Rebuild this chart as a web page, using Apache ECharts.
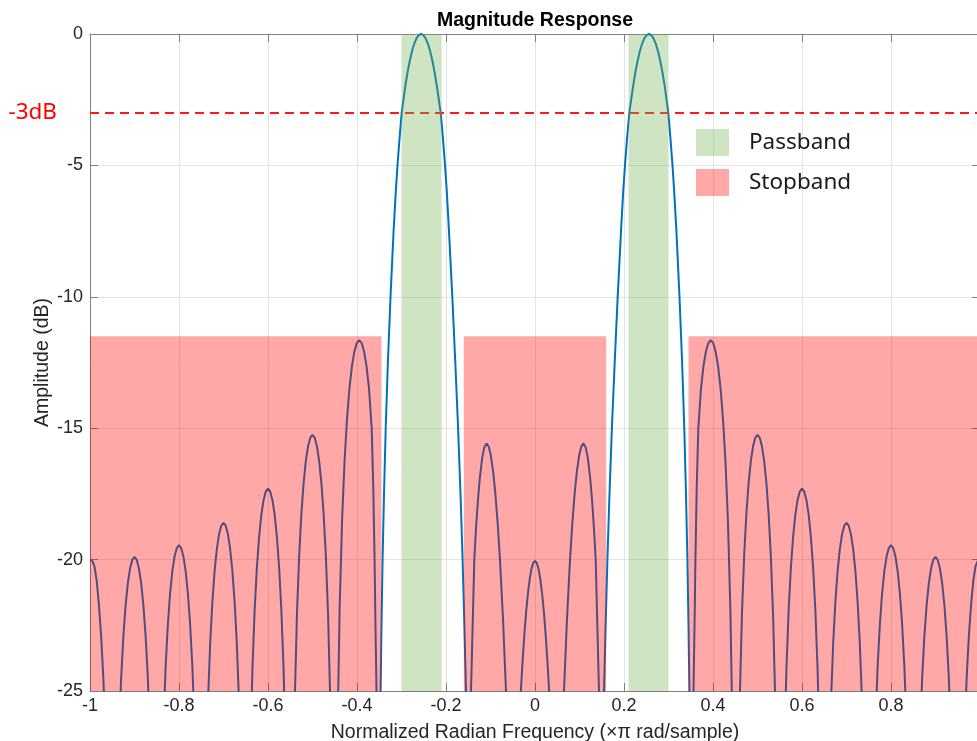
<!DOCTYPE html>
<html>
<head>
<meta charset="utf-8">
<script src="https://cdn.jsdelivr.net/npm/echarts@6/dist/echarts.min.js"></script>
<style>
html, body { margin: 0; padding: 0; background: #ffffff; }
#chart { width: 977px; height: 741px; }
</style>
</head>
<body>
<div id="chart"></div>
<script>
// ---- Data ----
// Normalized frequency (x pi rad/sample), lobe by lobe from left to right
const frequency = [
  -1, -0.995, -0.99, -0.985, -0.98, -0.975, -0.97, -0.965, -0.96, -0.95,
  -0.94, -0.935, -0.93, -0.925, -0.92, -0.915, -0.91, -0.905, -0.9, -0.895, -0.89, -0.885, -0.88, -0.875, -0.87, -0.865, -0.86, -0.85,
  -0.84, -0.835, -0.83, -0.825, -0.82, -0.815, -0.81, -0.805, -0.8, -0.795, -0.79, -0.785, -0.78, -0.775, -0.77, -0.765, -0.76, -0.75,
  -0.74, -0.735, -0.73, -0.725, -0.72, -0.715, -0.71, -0.705, -0.7, -0.695, -0.69, -0.685, -0.68, -0.675, -0.67, -0.665, -0.66, -0.65,
  -0.644, -0.64, -0.635, -0.63, -0.625, -0.62, -0.615, -0.61, -0.605, -0.6, -0.595, -0.59, -0.585, -0.58, -0.575, -0.57, -0.565, -0.56, -0.556, -0.55,
  -0.544, -0.54, -0.535, -0.53, -0.525, -0.52, -0.515, -0.51, -0.505, -0.5, -0.495, -0.49, -0.485, -0.48, -0.475, -0.47, -0.465, -0.46, -0.456, -0.45,
  -0.4467, -0.4434, -0.439, -0.4335, -0.428, -0.4225, -0.417, -0.4115, -0.406, -0.4005, -0.395, -0.3895, -0.384, -0.3785, -0.373, -0.367, -0.3635, -0.3605, -0.3585, -0.3562, -0.3506,
  -0.347, -0.3449, -0.3425, -0.3393, -0.3355, -0.3306, -0.3247, -0.3178, -0.3128, -0.309, -0.3045, -0.2996, -0.291, -0.286, -0.281, -0.276, -0.271, -0.266, -0.261, -0.256,
  -0.251, -0.246, -0.241, -0.236, -0.231, -0.226, -0.221, -0.2119, -0.2067, -0.2022, -0.1982, -0.1933, -0.1858, -0.1791, -0.1728, -0.1674, -0.1627, -0.1587, -0.1551, -0.1494,
  -0.1438, -0.1364, -0.1325, -0.1285, -0.124, -0.1185, -0.114, -0.109, -0.104, -0.0995, -0.094, -0.0895, -0.084, -0.0787, -0.0718, -0.0652, -0.056, -0.0483,
  -0.0395, -0.0318, -0.028, -0.024, -0.02, -0.016, -0.012, -0.008, -0.004, 0, 0.004, 0.008, 0.012, 0.016, 0.02, 0.024, 0.028, 0.0318, 0.0395, 0.0483,
  0.056, 0.0652, 0.0718, 0.0787, 0.084, 0.0895, 0.094, 0.0995, 0.104, 0.109, 0.114, 0.1185, 0.124, 0.1285, 0.1325, 0.1364, 0.1438, 0.1494,
  0.1551, 0.1587, 0.1627, 0.1674, 0.1728, 0.1791, 0.1858, 0.1933, 0.1982, 0.2022, 0.2067, 0.2119, 0.221, 0.226, 0.231, 0.236, 0.241, 0.246, 0.251, 0.256,
  0.261, 0.266, 0.271, 0.276, 0.281, 0.286, 0.291, 0.2996, 0.3045, 0.309, 0.3128, 0.3178, 0.3247, 0.3306, 0.3355, 0.3393, 0.3425, 0.3449, 0.347, 0.3506,
  0.3562, 0.3585, 0.3605, 0.3635, 0.367, 0.373, 0.3785, 0.384, 0.3895, 0.395, 0.4005, 0.406, 0.4115, 0.417, 0.4225, 0.428, 0.4335, 0.439, 0.4434, 0.4467, 0.45,
  0.456, 0.46, 0.465, 0.47, 0.475, 0.48, 0.485, 0.49, 0.495, 0.5, 0.505, 0.51, 0.515, 0.52, 0.525, 0.53, 0.535, 0.54, 0.544, 0.55,
  0.556, 0.56, 0.565, 0.57, 0.575, 0.58, 0.585, 0.59, 0.595, 0.6, 0.605, 0.61, 0.615, 0.62, 0.625, 0.63, 0.635, 0.64, 0.644, 0.65,
  0.66, 0.665, 0.67, 0.675, 0.68, 0.685, 0.69, 0.695, 0.7, 0.705, 0.71, 0.715, 0.72, 0.725, 0.73, 0.735, 0.74, 0.75,
  0.76, 0.765, 0.77, 0.775, 0.78, 0.785, 0.79, 0.795, 0.8, 0.805, 0.81, 0.815, 0.82, 0.825, 0.83, 0.835, 0.84, 0.85,
  0.86, 0.865, 0.87, 0.875, 0.88, 0.885, 0.89, 0.895, 0.9, 0.905, 0.91, 0.915, 0.92, 0.925, 0.93, 0.935, 0.94, 0.95,
  0.96, 0.965, 0.97, 0.975, 0.98, 0.985, 0.99, 0.995, 1
];
// Magnitude in dB (values below the -25 dB floor are cut off by the axis)
const magnitudeDb = [
  -20.0, -20.05, -20.25, -20.8, -21.7, -22.9, -24.5, -26.8, -30.2, -50,
  -30.1, -26.76, -24.51, -22.91, -21.74, -20.9, -20.34, -20.01, -19.9, -20.01, -20.34, -20.9, -21.74, -22.91, -24.51, -26.76, -30.1, -50,
  -29.65, -26.31, -24.06, -22.46, -21.29, -20.45, -19.89, -19.56, -19.45, -19.56, -19.89, -20.45, -21.29, -22.46, -24.06, -26.31, -29.65, -50,
  -28.8, -25.46, -23.21, -21.61, -20.44, -19.6, -19.04, -18.71, -18.6, -18.71, -19.04, -19.6, -20.44, -21.61, -23.21, -25.46, -28.8, -50,
  -31.84, -27.5, -24.16, -21.91, -20.31, -19.14, -18.3, -17.74, -17.41, -17.3, -17.41, -17.74, -18.3, -19.14, -20.31, -21.91, -24.16, -27.5, -31.84, -50,
  -29.79, -25.45, -22.11, -19.86, -18.26, -17.09, -16.25, -15.69, -15.36, -15.25, -15.36, -15.69, -16.25, -17.09, -18.26, -19.86, -22.11, -25.45, -29.79, -50,
  -32.2, -26.2, -21.85, -18.5, -16.26, -14.66, -13.49, -12.65, -12.09, -11.76, -11.65, -11.76, -12.09, -12.65, -13.49, -15.0, -17.2, -20.0, -22.5, -25.0, -50,
  -25, -22.5, -20, -17.5, -15, -12.5, -10, -7.5, -6, -5, -4, -3, -1.93, -1.42, -0.99, -0.63, -0.355, -0.158, -0.04, 0,
  -0.04, -0.158, -0.355, -0.63, -0.99, -1.42, -1.93, -3, -4, -5, -6, -7.5, -10, -12.5, -15, -17.5, -20, -22.5, -25, -50,
  -25, -20, -18.8, -17.8, -16.9, -16.11, -15.73, -15.58, -15.7, -16.01, -16.66, -17.41, -18.59, -20, -22.3, -25, -32, -50,
  -30, -25, -23.9, -22.87, -22.0, -21.3, -20.75, -20.36, -20.13, -20.05, -20.13, -20.36, -20.75, -21.3, -22.0, -22.87, -23.9, -25, -30, -50,
  -32, -25, -22.3, -20, -18.59, -17.41, -16.66, -16.01, -15.7, -15.58, -15.73, -16.11, -16.9, -17.8, -18.8, -20, -25, -50,
  -25, -22.5, -20, -17.5, -15, -12.5, -10, -7.5, -6, -5, -4, -3, -1.93, -1.42, -0.99, -0.63, -0.355, -0.158, -0.04, 0,
  -0.04, -0.158, -0.355, -0.63, -0.99, -1.42, -1.93, -3, -4, -5, -6, -7.5, -10, -12.5, -15, -17.5, -20, -22.5, -25, -50,
  -25.0, -22.5, -20.0, -17.2, -15.0, -13.49, -12.65, -12.09, -11.76, -11.65, -11.76, -12.09, -12.65, -13.49, -14.66, -16.26, -18.5, -21.85, -26.2, -32.2, -50,
  -29.79, -25.45, -22.11, -19.86, -18.26, -17.09, -16.25, -15.69, -15.36, -15.25, -15.36, -15.69, -16.25, -17.09, -18.26, -19.86, -22.11, -25.45, -29.79, -50,
  -31.84, -27.5, -24.16, -21.91, -20.31, -19.14, -18.3, -17.74, -17.41, -17.3, -17.41, -17.74, -18.3, -19.14, -20.31, -21.91, -24.16, -27.5, -31.84, -50,
  -28.8, -25.46, -23.21, -21.61, -20.44, -19.6, -19.04, -18.71, -18.6, -18.71, -19.04, -19.6, -20.44, -21.61, -23.21, -25.46, -28.8, -50,
  -29.65, -26.31, -24.06, -22.46, -21.29, -20.45, -19.89, -19.56, -19.45, -19.56, -19.89, -20.45, -21.29, -22.46, -24.06, -26.31, -29.65, -50,
  -30.1, -26.76, -24.51, -22.91, -21.74, -20.9, -20.34, -20.01, -19.9, -20.01, -20.34, -20.9, -21.74, -22.91, -24.51, -26.76, -30.1, -50,
  -30.2, -26.8, -24.5, -22.9, -21.7, -20.8, -20.25, -20.05, -20.0
];
// Shaded bands
const passbandRanges = [[-0.3, -0.21], [0.21, 0.3]];
const passbandLevels = [-25, 0];
const stopbandRanges = [[-1, -0.345], [-0.16, 0.16], [0.345, 1]];
const stopbandLevels = [-25, -11.5];
const thresholdDb = -3;
const xTicks = { min: -1, max: 1, interval: 0.2 };
const yTicks = { min: -25, max: 0, interval: 5 };

// ---- Chart ----
const chart = echarts.init(document.getElementById('chart'), null, { renderer: 'canvas' });

const curveData = frequency.map((f, i) => [f, magnitudeDb[i]]);
const passData = passbandRanges.map(r => [r[0], r[1], passbandLevels[0], passbandLevels[1]]);
const stopData = stopbandRanges.map(r => [r[0], r[1], stopbandLevels[0], stopbandLevels[1]]);

function renderBand(params, api) {
  const tl = api.coord([api.value(0), api.value(3)]);
  const br = api.coord([api.value(1), api.value(2)]);
  const shape = echarts.graphic.clipRectByRect(
    { x: tl[0], y: tl[1], width: br[0] - tl[0], height: br[1] - tl[1] },
    { x: params.coordSys.x, y: params.coordSys.y, width: params.coordSys.width, height: params.coordSys.height }
  );
  return shape && { type: 'rect', shape: shape, style: { fill: api.visual('color') } };
}

const axisColor = '#7f7f7f';
const textColor = '#262626';
const gridColor = '#e4e4e4';
const tickFont = 'Liberation Sans, Arial, Helvetica, sans-serif';

function fmtX(v) {
  if (Math.abs(v - 1) < 1e-9) return '';
  return String(Number(v.toFixed(1)));
}

const option = {
  animation: false,
  backgroundColor: '#ffffff',
  title: {
    text: 'Magnitude Response',
    left: 535,
    textAlign: 'center',
    top: 11,
    padding: 0,
    textStyle: { fontSize: 19.5, fontWeight: 'bold', color: '#000000', fontFamily: tickFont }
  },
  legend: {
    data: ['Passband', 'Stopband'],
    orient: 'vertical',
    left: 696,
    top: 129,
    padding: 0,
    itemWidth: 33,
    itemHeight: 27,
    itemGap: 13,
    icon: 'rect',
    selectedMode: false,
    textStyle: { fontSize: 22.5, color: '#1a1a1a', fontFamily: 'Noto Sans, Open Sans, sans-serif', padding: [2, 0, 0, 15] }
  },
  grid: { left: 90, top: 34, right: -3, bottom: 50, outerBoundsMode: 'none', containLabel: false },
  xAxis: [
    {
      type: 'value', position: 'bottom', min: xTicks.min, max: xTicks.max, interval: xTicks.interval,
      axisLine: { show: true, onZero: false, lineStyle: { color: axisColor, width: 1 } },
      axisTick: { show: true, inside: true, length: 8, lineStyle: { color: axisColor } },
      axisLabel: { show: true, color: textColor, fontSize: 18, fontFamily: tickFont, margin: 6, formatter: fmtX },
      splitLine: { show: true, lineStyle: { color: gridColor, width: 1 } },
      name: 'Normalized Radian Frequency (×π rad/sample)',
      nameLocation: 'middle',
      nameGap: 32,
      nameMoveOverlap: false,
      nameTextStyle: { fontSize: 19.5, color: textColor, fontFamily: tickFont }
    },
    {
      type: 'value', position: 'top', min: xTicks.min, max: xTicks.max, interval: xTicks.interval,
      axisLine: { show: true, onZero: false, lineStyle: { color: axisColor, width: 1 } },
      axisTick: { show: true, inside: true, length: 8, lineStyle: { color: axisColor } },
      axisLabel: { show: false },
      splitLine: { show: false }
    }
  ],
  yAxis: [
    {
      type: 'value', position: 'left', min: yTicks.min, max: yTicks.max, interval: yTicks.interval,
      axisLine: { show: true, onZero: false, lineStyle: { color: axisColor, width: 1 } },
      axisTick: { show: true, inside: true, length: 8, lineStyle: { color: axisColor } },
      axisLabel: { show: true, color: textColor, fontSize: 18, fontFamily: tickFont, margin: 7 },
      splitLine: { show: true, lineStyle: { color: gridColor, width: 1 } },
      name: 'Amplitude (dB)',
      nameLocation: 'middle',
      nameGap: 37,
      nameRotate: 90,
      nameMoveOverlap: false,
      nameTextStyle: { fontSize: 19.5, color: textColor, fontFamily: tickFont }
    },
    {
      type: 'value', position: 'right', min: yTicks.min, max: yTicks.max, interval: yTicks.interval,
      axisLine: { show: true, onZero: false, lineStyle: { color: axisColor, width: 1 } },
      axisTick: { show: true, inside: true, length: 8, lineStyle: { color: axisColor } },
      axisLabel: { show: false },
      splitLine: { show: false }
    }
  ],
  series: [
    {
      name: 'Response',
      type: 'line',
      xAxisIndex: 0, yAxisIndex: 0,
      data: curveData,
      showSymbol: false,
      symbol: 'none',
      clip: true,
      z: 2,
      lineStyle: { color: '#0072BD', width: 2 },
      itemStyle: { color: '#0072BD' },
      silent: true
    },
    {
      name: '-3dB',
      type: 'line',
      xAxisIndex: 0, yAxisIndex: 0,
      data: [],
      z: 3,
      clip: false,
      silent: true,
      markLine: {
        silent: true,
        symbol: 'none',
        z: 5,
        lineStyle: { color: '#ff1a1a', type: [9, 6], width: 2 },
        label: {
          show: true, position: 'start', distance: 33, formatter: '-3dB',
          color: '#ff0000', fontSize: 22.5, fontFamily: 'Noto Sans, Open Sans, sans-serif'
        },
        data: [{ yAxis: thresholdDb }]
      }
    },
    {
      name: 'Passband',
      type: 'custom',
      xAxisIndex: 0, yAxisIndex: 0,
      renderItem: renderBand,
      encode: { x: [0, 1], y: [2, 3] },
      data: passData,
      z: 10,
      silent: true,
      itemStyle: { color: 'rgba(110,175,80,0.34)' }
    },
    {
      name: 'Stopband',
      type: 'custom',
      xAxisIndex: 0, yAxisIndex: 0,
      renderItem: renderBand,
      encode: { x: [0, 1], y: [2, 3] },
      data: stopData,
      z: 10,
      silent: true,
      itemStyle: { color: 'rgba(255,0,0,0.34)' }
    }
  ]
};

chart.setOption(option);
</script>
</body>
</html>
